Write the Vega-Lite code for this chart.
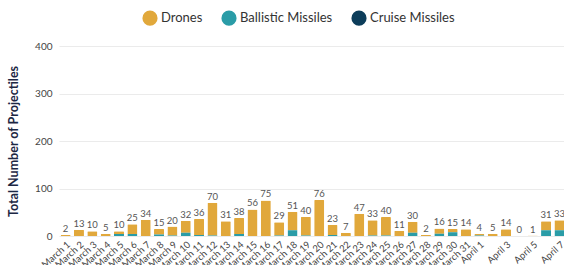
{
  "$schema": "https://vega.github.io/schema/vega-lite/v6.json",
  "autosize": {"type": "none"},
  "padding": {"left": 59, "top": 46, "right": 0, "bottom": 29},
  "width": 507,
  "height": 190,
  "config": {
    "font": "Lato",
    "view": {"stroke": null},
    "axis": {"labelFont": "Lato", "titleFont": "Lato"}
  },
  "data": {
    "values": [
      {"date": "March 1", "type": "Drones", "value": 2},
      {"date": "March 2", "type": "Drones", "value": 13},
      {"date": "March 3", "type": "Drones", "value": 10},
      {"date": "March 4", "type": "Drones", "value": 5},
      {"date": "March 5", "type": "Drones", "value": 6},
      {"date": "March 5", "type": "Ballistic Missiles", "value": 4},
      {"date": "March 6", "type": "Drones", "value": 21},
      {"date": "March 6", "type": "Ballistic Missiles", "value": 4},
      {"date": "March 7", "type": "Drones", "value": 34},
      {"date": "March 8", "type": "Drones", "value": 12},
      {"date": "March 8", "type": "Ballistic Missiles", "value": 3},
      {"date": "March 9", "type": "Drones", "value": 19},
      {"date": "March 9", "type": "Ballistic Missiles", "value": 1},
      {"date": "March 10", "type": "Drones", "value": 25},
      {"date": "March 10", "type": "Ballistic Missiles", "value": 7},
      {"date": "March 11", "type": "Drones", "value": 34},
      {"date": "March 11", "type": "Ballistic Missiles", "value": 2},
      {"date": "March 12", "type": "Drones", "value": 69},
      {"date": "March 12", "type": "Ballistic Missiles", "value": 1},
      {"date": "March 13", "type": "Drones", "value": 31},
      {"date": "March 14", "type": "Drones", "value": 34},
      {"date": "March 14", "type": "Ballistic Missiles", "value": 4},
      {"date": "March 15", "type": "Drones", "value": 56},
      {"date": "March 16", "type": "Drones", "value": 75},
      {"date": "March 17", "type": "Drones", "value": 28},
      {"date": "March 17", "type": "Ballistic Missiles", "value": 1},
      {"date": "March 18", "type": "Drones", "value": 39},
      {"date": "March 18", "type": "Ballistic Missiles", "value": 12},
      {"date": "March 19", "type": "Drones", "value": 39},
      {"date": "March 19", "type": "Ballistic Missiles", "value": 1},
      {"date": "March 20", "type": "Drones", "value": 76},
      {"date": "March 21", "type": "Drones", "value": 21},
      {"date": "March 21", "type": "Ballistic Missiles", "value": 2},
      {"date": "March 22", "type": "Drones", "value": 7},
      {"date": "March 23", "type": "Drones", "value": 47},
      {"date": "March 24", "type": "Drones", "value": 32},
      {"date": "March 24", "type": "Ballistic Missiles", "value": 1},
      {"date": "March 25", "type": "Drones", "value": 39},
      {"date": "March 25", "type": "Ballistic Missiles", "value": 1},
      {"date": "March 26", "type": "Drones", "value": 11},
      {"date": "March 27", "type": "Drones", "value": 23},
      {"date": "March 27", "type": "Ballistic Missiles", "value": 7},
      {"date": "March 28", "type": "Drones", "value": 2},
      {"date": "March 29", "type": "Drones", "value": 11},
      {"date": "March 29", "type": "Ballistic Missiles", "value": 5},
      {"date": "March 30", "type": "Drones", "value": 7},
      {"date": "March 30", "type": "Ballistic Missiles", "value": 8},
      {"date": "March 31", "type": "Drones", "value": 14},
      {"date": "April 1", "type": "Drones", "value": 3},
      {"date": "April 1", "type": "Ballistic Missiles", "value": 1},
      {"date": "April 2", "type": "Drones", "value": 5},
      {"date": "April 3", "type": "Drones", "value": 14},
      {"date": "April 4", "type": "Drones", "value": 0},
      {"date": "April 5", "type": "Drones", "value": 1},
      {"date": "April 6", "type": "Drones", "value": 19},
      {"date": "April 6", "type": "Ballistic Missiles", "value": 12},
      {"date": "April 7", "type": "Drones", "value": 21},
      {"date": "April 7", "type": "Ballistic Missiles", "value": 12}
    ]
  },
  "encoding": {
    "x": {
      "field": "date",
      "type": "nominal",
      "sort": null,
      "scale": {"paddingInner": 0.25, "paddingOuter": 0.12},
      "axis": {
        "title": null,
        "labelAngle": -42,
        "labelAlign": "right",
        "labelBaseline": "top",
        "labelFontSize": 9.5,
        "labelColor": "#444",
        "labelPadding": 3,
        "ticks": false,
        "domain": false,
        "labelOverlap": false,
        "labelExpr": "datum.label == 'April 2' || datum.label == 'April 4' || datum.label == 'April 6' ? '' : datum.label"
      }
    }
  },
  "layer": [
    {
      "mark": {"type": "bar", "cornerRadiusEnd": 1},
      "encoding": {
        "y": {
          "field": "value",
          "type": "quantitative",
          "aggregate": "sum",
          "scale": {"domain": [0, 400]},
          "axis": {
            "title": "Total Number of Projectiles",
            "titleFontSize": 12.5,
            "titleFontWeight": "bold",
            "titleColor": "#1c2744",
            "titlePadding": 14,
            "values": [0, 100, 200, 300, 400],
            "labelFontSize": 10,
            "labelColor": "#444",
            "labelPadding": 7,
            "ticks": false,
            "domain": false,
            "gridColor": "#ebebeb",
            "gridWidth": 1
          }
        },
        "color": {
          "field": "type",
          "type": "nominal",
          "scale": {
            "domain": ["Drones", "Ballistic Missiles", "Cruise Missiles"],
            "range": ["#e1a83b", "#2a9ca7", "#0c3d5a"]
          },
          "legend": {
            "title": null,
            "orient": "none",
            "direction": "horizontal",
            "legendX": 83,
            "legendY": -36,
            "symbolType": "circle",
            "symbolSize": 230,
            "symbolStrokeWidth": 0,
            "labelFontSize": 13,
            "labelColor": "#333",
            "labelOffset": 3,
            "columnPadding": 18
          }
        },
        "order": {"field": "type", "sort": "ascending"}
      }
    },
    {
      "mark": {"type": "text", "dy": -6, "fontSize": 9.5, "color": "#555"},
      "encoding": {
        "y": {"field": "value", "type": "quantitative", "aggregate": "sum"},
        "text": {"field": "value", "type": "quantitative", "aggregate": "sum"}
      }
    }
  ]
}
